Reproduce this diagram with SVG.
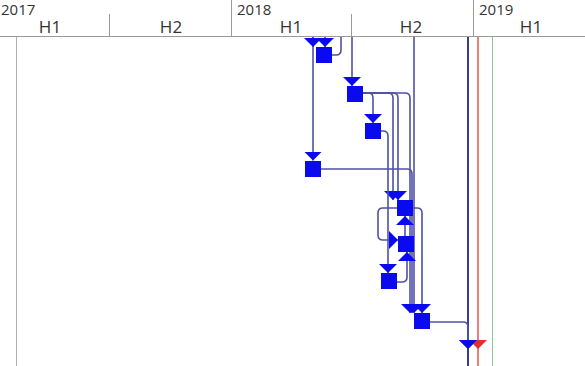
<svg xmlns="http://www.w3.org/2000/svg" width="585" height="366" viewBox="0 0 585 366">
<style>
.hdr{font-family:"Open Sans","DejaVu Sans",sans-serif;font-size:17px;fill:#333}
.yr{font-family:"Open Sans","DejaVu Sans",sans-serif;font-size:15px;fill:#333}
.sep{stroke:#9a9a9a;stroke-width:1}
.task{fill:#0a0af0}
.con{fill:none;stroke:#5050a8;stroke-width:1.6}
</style>
<defs>
<marker id="arr" markerUnits="userSpaceOnUse" viewBox="0 0 9 18" markerWidth="9" markerHeight="18" refX="9" refY="9" orient="auto">
<path d="M0,0 L9,9 L0,18 z" fill="#0a0af0"/>
</marker>
</defs>
<rect width="585" height="366" fill="#fff"/>
<g id="header">
<text class="yr" x="1" y="15">2017</text>
<text class="yr" x="237" y="15">2018</text>
<text class="yr" x="479" y="15">2019</text>
<text class="hdr" x="50" y="33" text-anchor="middle">H1</text>
<text class="hdr" x="171" y="33" text-anchor="middle">H2</text>
<text class="hdr" x="291" y="33" text-anchor="middle">H1</text>
<text class="hdr" x="411" y="33" text-anchor="middle">H2</text>
<text class="hdr" x="531" y="33" text-anchor="middle">H1</text>
<line class="sep" x1="231.5" y1="0" x2="231.5" y2="36"/>
<line class="sep" x1="473.5" y1="0" x2="473.5" y2="36"/>
<line class="sep" x1="109.5" y1="14" x2="109.5" y2="36"/>
<line class="sep" x1="351.5" y1="14" x2="351.5" y2="36"/>
<line class="sep" x1="0" y1="36.5" x2="585" y2="36.5"/>
</g>
<g id="gridlines">
<line x1="16.5" y1="37" x2="16.5" y2="366" stroke="#b0b0b0" stroke-width="1"/>
<line x1="492.5" y1="37" x2="492.5" y2="366" stroke="#8cc88c" stroke-width="1"/>
<line x1="478" y1="37" x2="478" y2="366" stroke="#e05555" stroke-width="1.5"/>
<line x1="468" y1="37" x2="468" y2="366" stroke="#3c3c8c" stroke-width="2"/>
</g>
<g id="connectors">
<path class="con" d="M313,37 V160.5" marker-end="url(#arr)"/>
<path class="con" d="M313,37 V47" marker-end="url(#arr)"/>
<path class="con" d="M325,37 V47" marker-end="url(#arr)"/>
<path class="con" d="M332,55 H336 Q341,55 341,50 V37"/>
<path class="con" d="M352,37 V86" marker-end="url(#arr)"/>
<path class="con" d="M414,37 V313" marker-end="url(#arr)"/>
<path class="con" d="M363,93 H405 Q410,93 410,98 V313" marker-end="url(#arr)"/>
<path class="con" d="M363,93 H368 Q373,93 373,98 V123" marker-end="url(#arr)"/>
<path class="con" d="M363,93 H388 Q393,93 393,98 V200" marker-end="url(#arr)"/>
<path class="con" d="M363,93 H393 Q398,93 398,98 V200" marker-end="url(#arr)"/>
<path class="con" d="M381,131 H383 Q388,131 388,136 V273" marker-end="url(#arr)"/>
<path class="con" d="M321,169 H407 Q412,169 412,174 V313" marker-end="url(#arr)"/>
<path class="con" d="M397,208 H383 Q378,208 378,213 V235 Q378,240 383,240 H398" marker-end="url(#arr)"/>
<path class="con" d="M413,208 H417 Q422,208 422,213 V313" marker-end="url(#arr)"/>
<path class="con" d="M405,236 V216" marker-end="url(#arr)"/>
<path class="con" d="M397,282 H402 Q407,282 407,277 V252" marker-end="url(#arr)"/>
<path class="con" d="M430,322 H463 Q468,322 468,327 V349" marker-end="url(#arr)"/>
</g>
<g id="n1"><rect class="task" x="316" y="47" width="16" height="16"/></g>
<g id="n2"><rect class="task" x="347" y="86" width="16" height="16"/></g>
<g id="n3"><rect class="task" x="365" y="123" width="16" height="16"/></g>
<g id="n4"><rect class="task" x="305" y="161" width="16" height="16"/></g>
<g id="n5"><rect class="task" x="397" y="200" width="16" height="16"/></g>
<g id="n6"><rect class="task" x="398" y="236" width="16" height="16"/></g>
<g id="n7"><rect class="task" x="381" y="273" width="16" height="16"/></g>
<g id="n8"><rect class="task" x="414" y="313" width="16" height="16"/></g>
<g id="end">
<polygon points="469,340 487,340 478,349" fill="#e03030"/>
<polygon points="459,340 477,340 468,349" fill="#0a0af0"/>
</g>
</svg>
